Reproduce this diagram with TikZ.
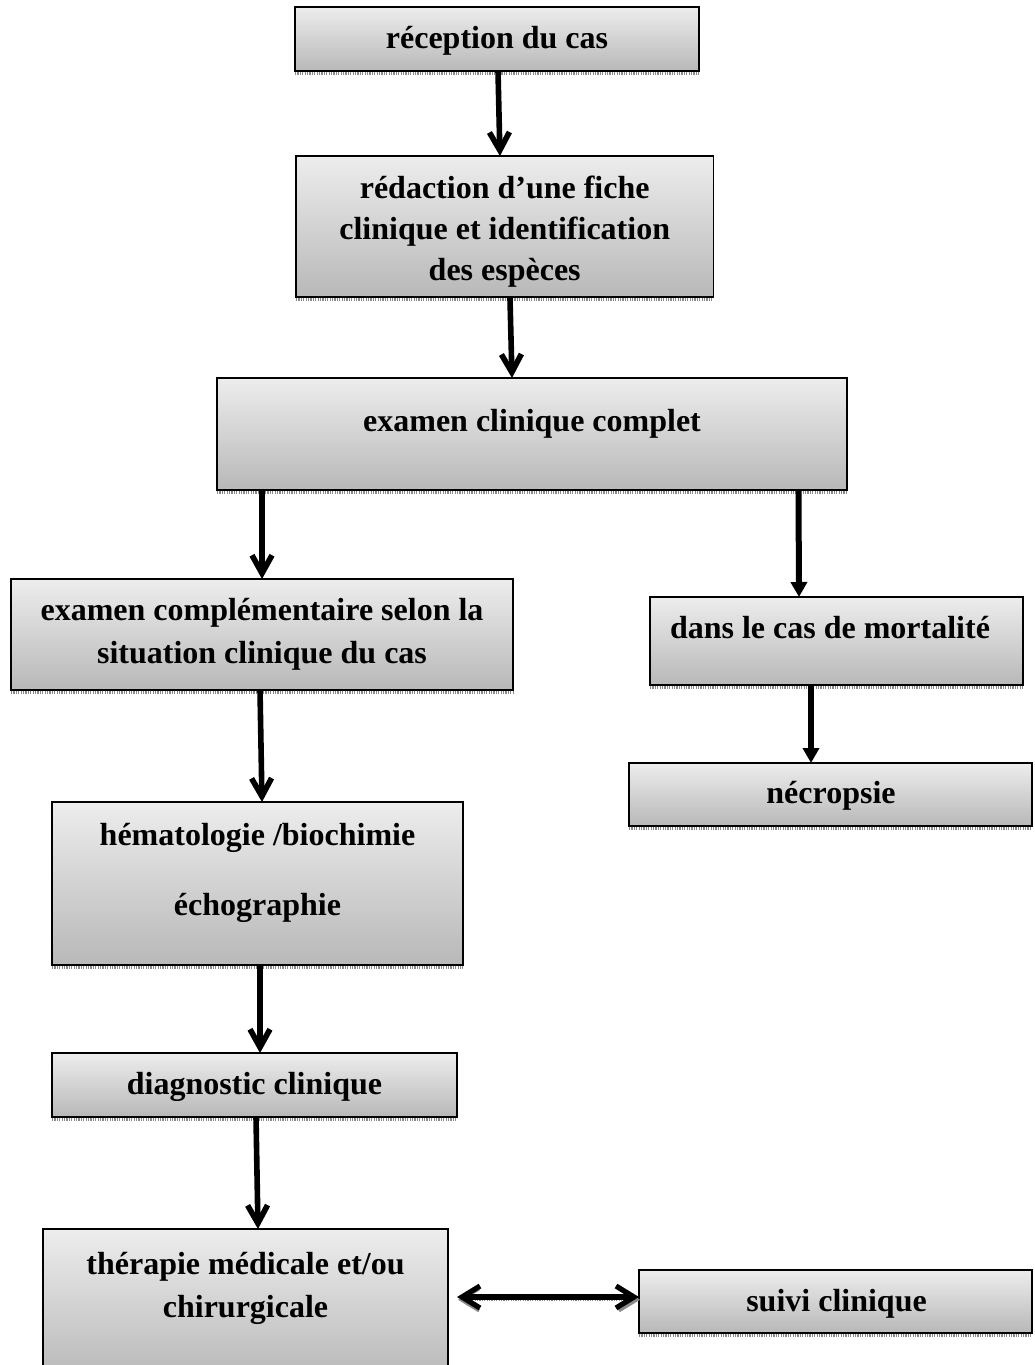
\documentclass[tikz,border=0pt]{standalone}
\usepackage{fontspec}
\setmainfont{Liberation Serif}
\usetikzlibrary{arrows.meta,fit}
\tikzset{
  box/.style={draw=black, line width=0.8pt, inner sep=0pt, outer sep=0pt,
    top color=boxtop, bottom color=boxbot},
  lbl/.style={inner sep=0pt, anchor=base, font=\fontsize{16}{19}\selectfont\bfseries},
  shadowline/.style={draw=shadowgray, line width=1.4pt, dash pattern=on 0.6pt off 0.6pt},
  flowl/.style={line width=2.8pt, -{Straight Barb[length=9pt,width=10pt]}},
  flowr/.style={line width=3pt, -{Triangle[length=7.5pt,width=8pt]}},
  twoway/.style={line width=2.6pt, {Straight Barb[length=9pt,width=11pt]}-{Straight Barb[length=9pt,width=11pt]}},
}
\definecolor{boxtop}{HTML}{EDEDED}
\definecolor{boxbot}{HTML}{B8B8B8}
\definecolor{shadowgray}{HTML}{8A8A8A}
\begin{document}
\begin{tikzpicture}[x=0.5pt,y=-0.5pt]
\useasboundingbox (0,0) rectangle (1034,1365);
\clip (0,0) rectangle (1034,1365);
\fill[white] (0,0) rectangle (1034,1365);

% boxes
\node[box, fit={(295,7) (699,71)}] (b1) {};
\node[box, fit={(296,156) (713.5,297)}] (b2) {};
\node[box, fit={(217,378) (847,490)}] (b3) {};
\node[box, fit={(11,579) (513,690)}] (b4) {};
\node[box, fit={(650,597) (1023,685)}] (b5) {};
\node[box, fit={(629,763) (1032,826)}] (b6) {};
\node[box, fit={(52,802) (463,965)}] (b7) {};
\node[box, fit={(52,1053) (457,1117)}] (b8) {};
\node[box, fit={(43,1229) (448,1380)}] (b9) {};
\node[box, fit={(639,1270) (1032,1333)}] (b10) {};

% shadows under boxes
\foreach \b in {b1,b2,b3,b4,b5,b6,b7,b8,b10}
  \draw[shadowline] ([yshift=-1.1pt]\b.south west) -- ([yshift=-1.1pt]\b.south east);

% texts
\node[lbl] (t1) at (497,48) {réception du cas};
\node[lbl] (t2a) at (504.7,198) {rédaction d’une fiche};
\node[lbl] (t2b) at (504.7,239.5) {clinique et identification};
\node[lbl] (t2c) at (504.7,280) {des espèces};
\node[lbl] (t3) at (532,431) {examen clinique complet};
\node[lbl] (t4a) at (262,620) {examen complémentaire selon la};
\node[lbl] (t4b) at (262,663) {situation clinique du cas};
\node[lbl] (t5) at (830,638) {dans le cas de mortalité};
\node[lbl] (t6) at (831,803) {nécropsie};
\node[lbl] (t7a) at (257.5,845) {hématologie /biochimie};
\node[lbl] (t7b) at (257.5,915) {échographie};
\node[lbl] (t8) at (254.5,1094) {diagnostic clinique};
\node[lbl] (t9a) at (245.5,1274) {thérapie médicale et/ou};
\node[lbl] (t9b) at (245.5,1317) {chirurgicale};
\node[lbl] (t10) at (836.5,1311) {suivi clinique};

% connectors
\draw[flowl] ([xshift=0.5pt]b1.south) -- ([xshift=-2.4pt]b2.north);
\draw[flowl] ([xshift=2.6pt]b2.south) -- ([xshift=-10pt]b3.north);
\draw[flowl] ([xshift=22.5pt]b3.south west) -- (b4.north);
\draw[flowr] ([xshift=-24.25pt]b3.south east) -- ([xshift=74.5pt]b5.north west);
\draw[flowl] ([xshift=-1pt]b4.south) -- ([xshift=2.25pt]b7.north);
\draw[flowr] ([xshift=-12.75pt]b5.south) -- ([xshift=-9.75pt]b6.north);
\draw[flowl] ([xshift=1.25pt]b7.south) -- ([xshift=2.75pt]b8.north);
\draw[flowl] ([xshift=0.75pt]b8.south) -- ([xshift=6.25pt]b9.north);
\draw[twoway, draw=shadowgray, dash pattern=on 0.6pt off 0.6pt, line width=1.6pt]
  ([xshift=5pt,yshift=2.35pt]b9.east) -- ([xshift=0.5pt,yshift=0.85pt]b10.west);
\draw[twoway] ([xshift=4.5pt,yshift=3.75pt]b9.east) -- ([yshift=2.25pt]b10.west);
\end{tikzpicture}
\end{document}
